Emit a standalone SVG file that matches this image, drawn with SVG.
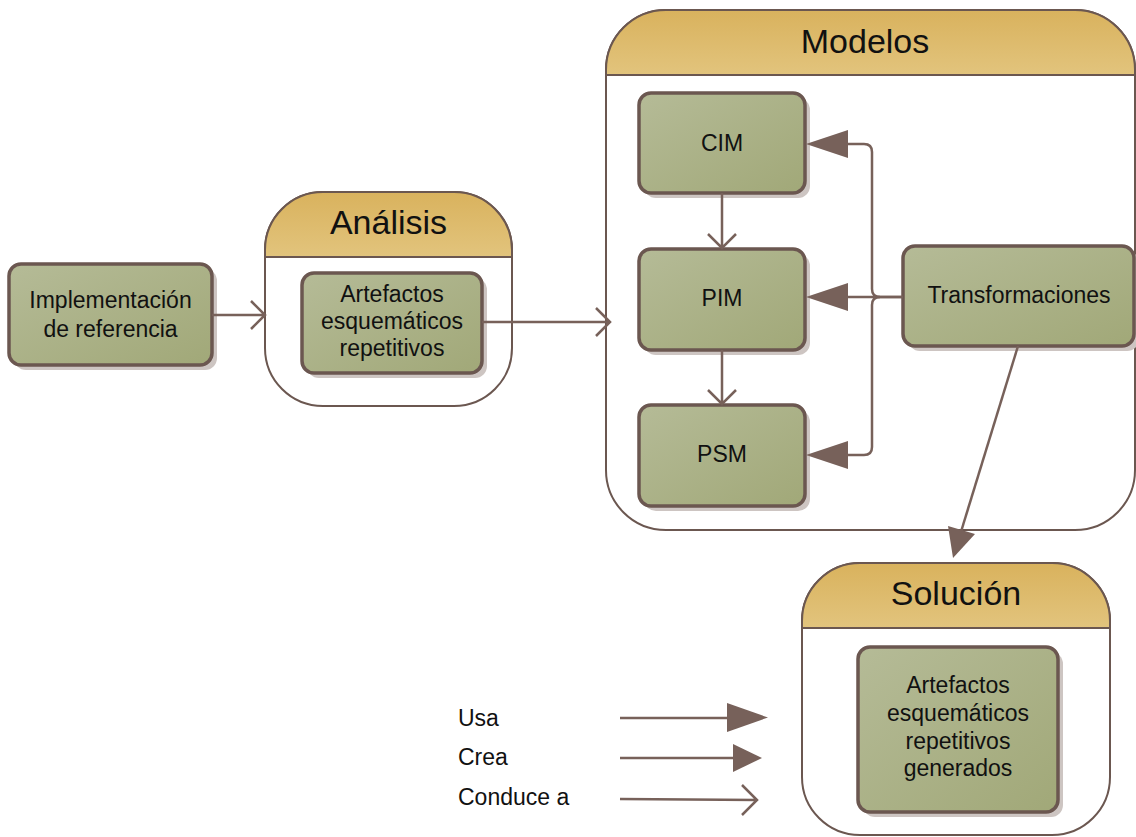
<svg xmlns="http://www.w3.org/2000/svg" width="1136" height="837" viewBox="0 0 1136 837">
<defs>
<linearGradient id="gNode" x1="0" y1="0" x2="1" y2="1">
<stop offset="0" stop-color="#b5bb97"/>
<stop offset="1" stop-color="#a1a878"/>
</linearGradient>
<linearGradient id="gHead" x1="0" y1="0" x2="0" y2="1">
<stop offset="0" stop-color="#d9b25d"/>
<stop offset="1" stop-color="#e2c47d"/>
</linearGradient>
<style>
.node{fill:url(#gNode);stroke:#6b5750;stroke-width:3.5}
.shadow{fill:#cdc5c2}
.cont{fill:#ffffff;stroke:#6b5750;stroke-width:2}
.head{fill:url(#gHead);stroke:#6b5750;stroke-width:2}
.t{font-family:"Liberation Sans",Arial,sans-serif;font-size:23px;fill:#111;text-anchor:middle}
.h{font-family:"Liberation Sans",Arial,sans-serif;font-size:34px;fill:#111;text-anchor:middle}
.lg{font-family:"Liberation Sans",Arial,sans-serif;font-size:23px;fill:#111}
.c{fill:none;stroke:#77615a;stroke-width:2.5}
.ah{fill:#77615a;stroke:none}
</style>
</defs>
<rect width="1136" height="837" fill="#ffffff"/>

<g id="modelos">
<rect class="cont" x="606" y="10" width="529" height="520" rx="60" ry="60"/>
<path class="head" d="M606,75 V70 A60,60 0 0 1 666,10 H1075 A60,60 0 0 1 1135,70 V75 Z"/>
<text class="h" x="865" y="53">Modelos</text>
</g>

<g id="analisis">
<rect class="cont" x="265" y="192" width="247" height="214" rx="58" ry="58"/>
<path class="head" d="M265,257 V250 A58,58 0 0 1 323,192 H454 A58,58 0 0 1 512,250 V257 Z"/>
<text class="h" x="388.5" y="234">Análisis</text>
</g>

<g id="solucion">
<rect class="cont" x="802" y="563" width="308" height="272" rx="58" ry="58"/>
<path class="head" d="M802,628 V621 A58,58 0 0 1 860,563 H1052 A58,58 0 0 1 1110,621 V628 Z"/>
<text class="h" x="956" y="605">Solución</text>
</g>

<g id="implementacion">
<rect class="shadow" x="14" y="269" width="203" height="101" rx="12"/>
<rect class="node" x="9" y="264" width="203" height="101" rx="12"/>
<text class="t" x="110.5" y="308">Implementación</text>
<text class="t" x="110.5" y="337">de referencia</text>
</g>

<g id="artefactos">
<rect class="shadow" x="307" y="278" width="180" height="100" rx="12"/>
<rect class="node" x="302" y="273" width="180" height="100" rx="12"/>
<text class="t" x="392" y="302">Artefactos</text>
<text class="t" x="392" y="329">esquemáticos</text>
<text class="t" x="392" y="356">repetitivos</text>
</g>

<g id="cim">
<rect class="shadow" x="644" y="98" width="166" height="100" rx="12"/>
<rect class="node" x="639" y="93" width="166" height="100" rx="12"/>
<text class="t" x="722" y="151">CIM</text>
</g>

<g id="pim">
<rect class="shadow" x="644" y="254" width="166" height="101" rx="12"/>
<rect class="node" x="639" y="249" width="166" height="101" rx="12"/>
<text class="t" x="722" y="306">PIM</text>
</g>

<g id="psm">
<rect class="shadow" x="644" y="410" width="166" height="101" rx="12"/>
<rect class="node" x="639" y="405" width="166" height="101" rx="12"/>
<text class="t" x="722" y="462">PSM</text>
</g>

<g id="transformaciones">
<rect class="shadow" x="908" y="251" width="231" height="100" rx="12"/>
<rect class="node" x="903" y="246" width="231" height="100" rx="12"/>
<text class="t" x="1019" y="303">Transformaciones</text>
</g>

<g id="generados">
<rect class="shadow" x="863" y="652" width="200" height="165" rx="12"/>
<rect class="node" x="858" y="647" width="200" height="165" rx="12"/>
<text class="t" x="958" y="693">Artefactos</text>
<text class="t" x="958" y="721">esquemáticos</text>
<text class="t" x="958" y="749">repetitivos</text>
<text class="t" x="958" y="776">generados</text>
</g>

<g id="connectors">
<path class="c" d="M212,315 H265 M251,301 L265,315 L251,329"/>
<path class="c" d="M482,322 H610 M596,308 L610,322 L596,336"/>
<path class="c" d="M722,193 V247 M708,234 L722,248 L736,234"/>
<path class="c" d="M722,350 V403 M708,390 L722,404 L736,390"/>
<path class="c" d="M903,297 H880 Q872,297 872,289 V152 Q872,144 864,144 H845"/>
<polygon class="ah" points="806,144 848,130 848,158"/>
<path class="c" d="M903,297 H845"/>
<polygon class="ah" points="806,297 848,283 848,311"/>
<path class="c" d="M880,297 Q872,297 872,305 V447 Q872,455 864,455 H845"/>
<polygon class="ah" points="806,455 848,441 848,469"/>
<path class="c" d="M1018,346 L960,535"/>
<polygon class="ah" points="953,558 975,534 948,526"/>
</g>

<g id="legend">
<text class="lg" x="458" y="726">Usa</text>
<path class="c" d="M620,718 H730"/>
<polygon class="ah" points="727,703 768,717.5 727,732"/>
<text class="lg" x="458" y="765">Crea</text>
<path class="c" d="M620,758 H736"/>
<polygon class="ah" points="733,744 762,758 733,772"/>
<text class="lg" x="458" y="805">Conduce a</text>
<path class="c" d="M620,799 L757,800 M742,785 L757,800 L742,815"/>
</g>
</svg>
